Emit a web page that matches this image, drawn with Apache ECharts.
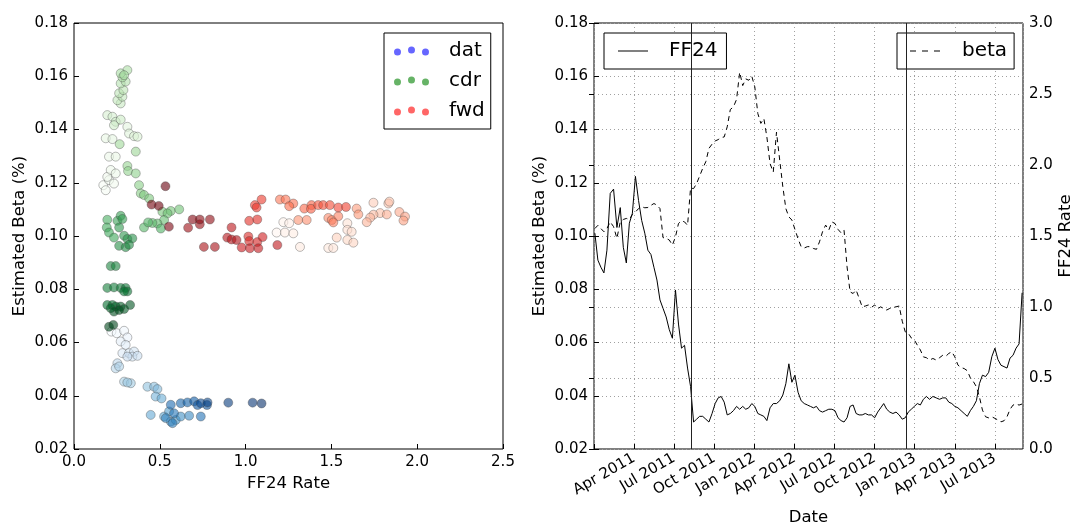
<!DOCTYPE html>
<html>
<head>
<meta charset="utf-8">
<script src="https://cdn.jsdelivr.net/npm/echarts/dist/echarts.min.js"></script>
<style>
  html, body { margin: 0; padding: 0; background: #fff; }
  #chart { width: 1073px; height: 527px; }
</style>
</head>
<body>
<div id="chart"></div>
<script>
// weekly samples, first one on 2011-01-03
const weekStart = "2011-01-03";
const ff24 = [
  1.52, 1.33, 1.28, 1.24, 1.40, 1.80, 1.83, 1.56, 1.70, 1.42,
  1.31, 1.59, 1.66, 1.92, 1.75, 1.61, 1.52, 1.40, 1.37, 1.28,
  1.19, 1.05, 0.99, 0.93, 0.84, 0.78, 1.12, 0.88, 0.71, 0.73,
  0.57, 0.44, 0.19, 0.21, 0.23, 0.23, 0.21, 0.19, 0.25, 0.32,
  0.36, 0.37, 0.33, 0.24, 0.25, 0.27, 0.30, 0.28, 0.30, 0.28,
  0.29, 0.32, 0.30, 0.25, 0.24, 0.23, 0.20, 0.29, 0.32, 0.32,
  0.34, 0.38, 0.46, 0.60, 0.47, 0.52, 0.40, 0.34, 0.32, 0.31,
  0.30, 0.29, 0.30, 0.27, 0.26, 0.27, 0.28, 0.28, 0.27, 0.22,
  0.20, 0.19, 0.22, 0.30, 0.31, 0.25, 0.24, 0.24, 0.25, 0.24,
  0.24, 0.22, 0.26, 0.29, 0.32, 0.28, 0.26, 0.25, 0.26, 0.24,
  0.21, 0.22, 0.26, 0.28, 0.30, 0.32, 0.31, 0.35, 0.37, 0.35,
  0.37, 0.36, 0.35, 0.36, 0.36, 0.33, 0.32, 0.30, 0.29, 0.27,
  0.25, 0.23, 0.27, 0.30, 0.34, 0.46, 0.52, 0.51, 0.54, 0.65,
  0.71, 0.63, 0.59, 0.58, 0.57, 0.64, 0.66, 0.71, 0.74, 1.10
];
const beta = [
  0.1028, 0.1040, 0.1028, 0.1016, 0.1028, 0.1053, 0.1035, 0.0991, 0.1053, 0.1062,
  0.1066, 0.1062, 0.1081, 0.1090, 0.1103, 0.1110, 0.1106, 0.1107, 0.1115, 0.1122,
  0.1116, 0.1103, 0.0994, 0.0991, 0.0985, 0.0966, 0.0997, 0.1047, 0.1057, 0.1053,
  0.1040, 0.1180, 0.1178, 0.1197, 0.1225, 0.1254, 0.1279, 0.1329, 0.1345, 0.1357,
  0.1362, 0.1370, 0.1372, 0.1410, 0.1475, 0.1485, 0.1513, 0.1615, 0.1565, 0.1590,
  0.1585, 0.1600, 0.1560, 0.1460, 0.1423, 0.1441, 0.1372, 0.1272, 0.1240, 0.1390,
  0.1285, 0.1185, 0.1103, 0.1072, 0.1060, 0.1025, 0.0990, 0.0960, 0.0955, 0.0960,
  0.0960, 0.0953, 0.0950, 0.0978, 0.1016, 0.1041, 0.1022, 0.1053, 0.1047, 0.1025,
  0.1012, 0.1022, 0.0884, 0.0790, 0.0784, 0.0797, 0.0766, 0.0734, 0.0737, 0.0741,
  0.0732, 0.0741, 0.0727, 0.0734, 0.0727, 0.0722, 0.0728, 0.0732, 0.0734, 0.0737,
  0.0680, 0.0640, 0.0635, 0.0617, 0.0610, 0.0590, 0.0572, 0.0546, 0.0543, 0.0534,
  0.0540, 0.0534, 0.0543, 0.0552, 0.0548, 0.0559, 0.0565, 0.0546, 0.0515, 0.0506,
  0.0502, 0.0494, 0.0467, 0.0453, 0.0434, 0.0396, 0.0346, 0.0321, 0.0317, 0.0321,
  0.0315, 0.0309, 0.0302, 0.0306, 0.0321, 0.0349, 0.0365, 0.0369, 0.0365, 0.0369
];
const eventDates = ["2011-08-09", "2012-12-12"];
const dateMax = "2013-09-04";
const quarterNames = ["Jan", "Apr", "Jul", "Oct"];

// scatter points [FF24 rate, beta], oldest first
const datPts = [
  [0.218,0.0641],[0.249,0.0635],[0.292,0.0644],[0.311,0.0619],[0.272,0.0604],[0.301,0.0591],
  [0.282,0.0560],[0.321,0.0560],[0.350,0.0566],[0.340,0.0547],[0.370,0.0550],[0.311,0.0547],
  [0.253,0.0522],[0.243,0.0503],[0.263,0.0510],[0.292,0.0453],[0.331,0.0447],[0.311,0.0450],
  [0.428,0.0434],[0.467,0.0434],[0.486,0.0425],[0.476,0.0397],[0.510,0.0390],
  [0.447,0.0328],[0.525,0.0322],[0.554,0.0341],[0.564,0.0303],[0.593,0.0309],[0.622,0.0322],
  [0.671,0.0325],[0.535,0.0316],[0.574,0.0297],[0.583,0.0334],[0.739,0.0322],
  [0.564,0.0366],[0.622,0.0372],[0.661,0.0375],[0.700,0.0379],[0.720,0.0365],[0.775,0.0365],
  [0.739,0.0372],[0.778,0.0375],[0.899,0.0374],[1.041,0.0374],[1.093,0.0371]
];
const cdrPts = [
  [0.171,0.1191],[0.185,0.1172],[0.204,0.1210],[0.233,0.1197],[0.194,0.1222],[0.214,0.1248],
  [0.243,0.1235],[0.204,0.1298],[0.243,0.1298],[0.185,0.1367],[0.224,0.1364],
  [0.311,0.1410],[0.321,0.1385],[0.350,0.1375],[0.370,0.1373],
  [0.194,0.1454],[0.224,0.1448],[0.243,0.1429],[0.233,0.1416],[0.272,0.1437],[0.272,0.1498],
  [0.253,0.1510],[0.282,0.1523],[0.263,0.1536],[0.288,0.1548],[0.272,0.1573],[0.301,0.1580],
  [0.282,0.1596],[0.311,0.1623],[0.272,0.1611],[0.292,0.1604],
  [0.266,0.1345],[0.360,0.1317],[0.311,0.1263],[0.315,0.1244],[0.360,0.1235],
  [0.379,0.1191],[0.389,0.1160],[0.408,0.1154],[0.438,0.1141],
  [0.515,0.1091],[0.564,0.1094],[0.613,0.1100],[0.545,0.1085],[0.525,0.1060],[0.486,0.1047],
  [0.457,0.1049],[0.408,0.1032],[0.432,0.1051],[0.506,0.1028],
  [0.194,0.1061],[0.191,0.1032],[0.204,0.1013],[0.233,0.0994],[0.253,0.1057],[0.272,0.1076],
  [0.282,0.1064],[0.263,0.1032],[0.292,0.1001],[0.311,0.0989],[0.340,0.0991],[0.263,0.0963],
  [0.301,0.0958],[0.321,0.0967],
  [0.214,0.0887],[0.243,0.0887],[0.194,0.0805],[0.233,0.0807],[0.272,0.0805],[0.301,0.0805],
  [0.311,0.0792],[0.292,0.0792],
  [0.194,0.0741],[0.224,0.0741],[0.243,0.0735],[0.214,0.0729],[0.272,0.0735],[0.292,0.0726],
  [0.327,0.0741],[0.233,0.0716],[0.263,0.0722],[0.204,0.0659],[0.229,0.0666]
];
const fwdPts = [
  [1.181,0.1013],[1.220,0.1052],[1.254,0.1048],[1.229,0.1013],[1.278,0.1010],[1.317,0.0959],
  [1.482,0.0955],[1.511,0.0955],[1.593,0.1048],[1.593,0.1023],[1.618,0.1016],[1.593,0.0985],
  [1.628,0.0975],[1.531,0.0994],
  [1.745,0.1125],[1.832,0.1122],[1.838,0.1129],[1.784,0.1086],[1.745,0.1080],[1.726,0.1069],
  [1.706,0.1052],[1.823,0.1081],[1.896,0.1090],[1.929,0.1073],[1.920,0.1058],[1.647,0.1103],
  [1.657,0.1081],[1.307,0.1060],[1.356,0.1060],[1.482,0.1068],[1.502,0.1060],[1.540,0.1074],
  [1.511,0.1051],
  [1.200,0.1137],[1.233,0.1137],[1.278,0.1122],[1.254,0.1112],[1.342,0.1103],[1.384,0.1116],
  [1.381,0.1102],[1.423,0.1116],[1.452,0.1116],[1.491,0.1116],[1.540,0.1107],[1.585,0.1109],
  [1.054,0.1116],[1.093,0.1137],[1.064,0.1107],[1.021,0.1057],[1.068,0.1062],[1.016,0.0998],
  [1.021,0.0981],[1.068,0.0977],[1.099,0.0996],[0.977,0.0957],[1.025,0.0954],[1.074,0.0954],
  [1.185,0.0966],[0.918,0.1032],[0.893,0.0994],[0.918,0.0987],[0.947,0.0985],
  [0.757,0.0959],[0.821,0.0959],[0.665,0.1031],[0.733,0.1044],[0.792,0.1062],[0.733,0.1062],
  [0.691,0.1062],
  [0.553,0.1035],[0.452,0.1118],[0.494,0.1113],[0.533,0.1187]
];

const blues = ["#f7fbff","#deebf7","#c6dbef","#9ecae1","#6baed6","#4292c6","#2171b5","#08519c","#08306b"];
const greens = ["#f7fcf5","#e5f5e0","#c7e9c0","#a1d99b","#74c476","#41ab5d","#238b45","#006d2c","#00441b"];
const reds = ["#fff5f0","#fee0d2","#fcbba1","#fc9272","#fb6a4a","#ef3b2c","#cb181d","#a50f15","#67000d"];

// date -> months since Jan 2011 (fractional)
function toMonths(d) {
  const y = d.getUTCFullYear(), m = d.getUTCMonth();
  const dim = new Date(Date.UTC(y, m + 1, 0)).getUTCDate();
  return (y - 2011) * 12 + m + (d.getUTCDate() - 1) / dim;
}
function parseDate(s) {
  const p = s.split("-").map(Number);
  return new Date(Date.UTC(p[0], p[1] - 1, p[2]));
}
const t0 = parseDate(weekStart);
const weekX = ff24.map((v, i) => toMonths(new Date(t0.getTime() + i * 7 * 86400000)));

const font = "DejaVu Sans";
const dotsIcon = "path://M0,5.5A3.5,3.5 0 1,0 7,5.5A3.5,3.5 0 1,0 0,5.5Z" +
  "M14,3.5A3.5,3.5 0 1,0 21,3.5A3.5,3.5 0 1,0 14,3.5Z" +
  "M28,5.5A3.5,3.5 0 1,0 35,5.5A3.5,3.5 0 1,0 28,5.5Z";
const solidIcon = "path://M0,0H30V1H0Z";
const dashIcon = "path://M0,0H6V1H0ZM12,0H18V1H12ZM24,0H30V1H24Z";
const gridLine = { show: true, lineStyle: { color: "#a0a0a0", type: [1, 3], width: 1 } };
const tickIn = { show: true, inside: true, length: 5, lineStyle: { color: "#000" } };
const lbl = { color: "#000", fontFamily: font, fontSize: 15 };
const nameStyle = { color: "#000", fontFamily: font, fontSize: 16.5 };

function scatterSeries(name, pts, color) {
  return {
    name: name,
    type: "scatter",
    xAxisIndex: 0,
    yAxisIndex: 0,
    symbolSize: 9,
    itemStyle: { color: color, opacity: 0.6, borderColor: "#444", borderWidth: 0.6 },
    data: pts.map((p, i) => [p[0], p[1], i])
  };
}
function vline(date, z) {
  return {
    type: "line",
    xAxisIndex: 1,
    yAxisIndex: 1,
    data: [],
    z: z,
    markLine: {
      silent: true,
      symbol: "none",
      label: { show: false },
      lineStyle: { color: "#222", width: 1, type: "solid" },
      data: [{ xAxis: toMonths(parseDate(date)) }]
    }
  };
}

let myChart = echarts.init(document.getElementById("chart"));
let option = {
  backgroundColor: "#fff",
  animation: false,
  grid: [
    { left: 74, top: 23, width: 429, height: 426, show: true, borderColor: "#000", borderWidth: 1,
      containLabel: false, outerBoundsMode: "none" },
    { left: 594, top: 23, width: 429, height: 426, show: true, borderColor: "#000", borderWidth: 1,
      containLabel: false, outerBoundsMode: "none" }
  ],
  legend: [
    {
      data: [{ name: "dat", icon: dotsIcon }, { name: "cdr", icon: dotsIcon }, { name: "fwd", icon: dotsIcon }],
      orient: "vertical",
      left: 384, top: 33,
      padding: [8, 6, 8, 10],
      itemGap: 10,
      itemWidth: 35, itemHeight: 9,
      itemStyle: { borderWidth: 0 },
      backgroundColor: "#fff",
      borderColor: "#000", borderWidth: 1, borderRadius: 0,
      textStyle: { color: "#000", fontFamily: font, fontSize: 20, padding: [0, 0, 0, 15] }
    },
    {
      data: [{ name: "FF24", icon: solidIcon }],
      left: 604, top: 33,
      padding: [8, 9, 8, 14],
      itemWidth: 30, itemHeight: 1,
      itemStyle: { color: "#000", borderWidth: 0 },
      backgroundColor: "#fff",
      borderColor: "#000", borderWidth: 1, borderRadius: 0,
      textStyle: { color: "#000", fontFamily: font, fontSize: 20, padding: [0, 0, 0, 16] }
    },
    {
      data: [{ name: "beta", icon: dashIcon }],
      left: 897, top: 33,
      padding: [8, 7, 8, 13],
      itemWidth: 30, itemHeight: 1,
      itemStyle: { color: "#000", borderWidth: 0 },
      backgroundColor: "#fff",
      borderColor: "#000", borderWidth: 1, borderRadius: 0,
      textStyle: { color: "#000", fontFamily: font, fontSize: 20, padding: [0, 0, 0, 17] }
    }
  ],
  visualMap: [
    { type: "continuous", show: false, seriesIndex: 0, dimension: 2, min: 0, max: datPts.length - 1, inRange: { color: blues } },
    { type: "continuous", show: false, seriesIndex: 1, dimension: 2, min: 0, max: cdrPts.length - 1, inRange: { color: greens } },
    { type: "continuous", show: false, seriesIndex: 2, dimension: 2, min: 0, max: fwdPts.length - 1, inRange: { color: reds } }
  ],
  xAxis: [
    {
      gridIndex: 0, type: "value", min: 0, max: 2.5, interval: 0.5,
      name: "FF24 Rate", nameLocation: "middle", nameGap: 25, nameTextStyle: nameStyle,
      axisLine: { show: false }, axisTick: tickIn, splitLine: { show: false },
      axisLabel: Object.assign({ margin: 6, formatter: (v) => v.toFixed(1) }, lbl)
    },
    {
      gridIndex: 1, type: "value", min: 0, max: toMonths(parseDate(dateMax)), interval: 3,
      name: "Date", nameLocation: "middle", nameGap: 60, nameTextStyle: nameStyle,
      axisLine: { show: false }, axisTick: tickIn, splitLine: gridLine,
      axisLabel: Object.assign({
        rotate: 30, margin: 8, showMaxLabel: false,
        formatter: (v) => v === 0 ? "" : quarterNames[(v % 12) / 3] + " " + (2011 + Math.floor(v / 12))
      }, lbl)
    }
  ],
  yAxis: [
    {
      gridIndex: 0, type: "value", min: 0.02, max: 0.18, interval: 0.02,
      name: "Estimated Beta (%)", nameLocation: "middle", nameRotate: 90, nameGap: 46, nameTextStyle: nameStyle,
      axisLine: { show: false }, axisTick: tickIn, splitLine: { show: false },
      axisLabel: Object.assign({ margin: 6, formatter: (v) => v.toFixed(2) }, lbl)
    },
    {
      gridIndex: 1, type: "value", position: "right", min: 0, max: 3, interval: 0.5,
      name: "FF24 Rate", nameLocation: "middle", nameRotate: 90, nameGap: 34, nameTextStyle: nameStyle,
      axisLine: { show: false }, axisTick: tickIn, splitLine: gridLine,
      axisLabel: Object.assign({ margin: 6, formatter: (v) => v.toFixed(1) }, lbl)
    },
    {
      gridIndex: 1, type: "value", position: "left", min: 0.02, max: 0.18, interval: 0.02,
      name: "Estimated Beta (%)", nameLocation: "middle", nameRotate: 90, nameGap: 46, nameTextStyle: nameStyle,
      axisLine: { show: false }, axisTick: tickIn, splitLine: gridLine,
      axisLabel: Object.assign({ margin: 6, formatter: (v) => v.toFixed(2) }, lbl)
    }
  ],
  series: [
    scatterSeries("dat", datPts, "blue"),
    scatterSeries("cdr", cdrPts, "green"),
    scatterSeries("fwd", fwdPts, "red"),
    {
      name: "FF24",
      type: "line",
      xAxisIndex: 1,
      yAxisIndex: 1,
      symbol: "none",
      lineStyle: { color: "#000", width: 1 },
      itemStyle: { color: "#000" },
      data: ff24.map((v, i) => [weekX[i], v])
    },
    {
      name: "beta",
      type: "line",
      xAxisIndex: 1,
      yAxisIndex: 2,
      symbol: "none",
      lineStyle: { color: "#000", width: 1, type: [5, 4] },
      itemStyle: { color: "#000" },
      data: beta.map((v, i) => [weekX[i], v])
    },
    vline(eventDates[0], 1),
    vline(eventDates[1], 10)
  ]
};
myChart.setOption(option);
</script>
</body>
</html>
